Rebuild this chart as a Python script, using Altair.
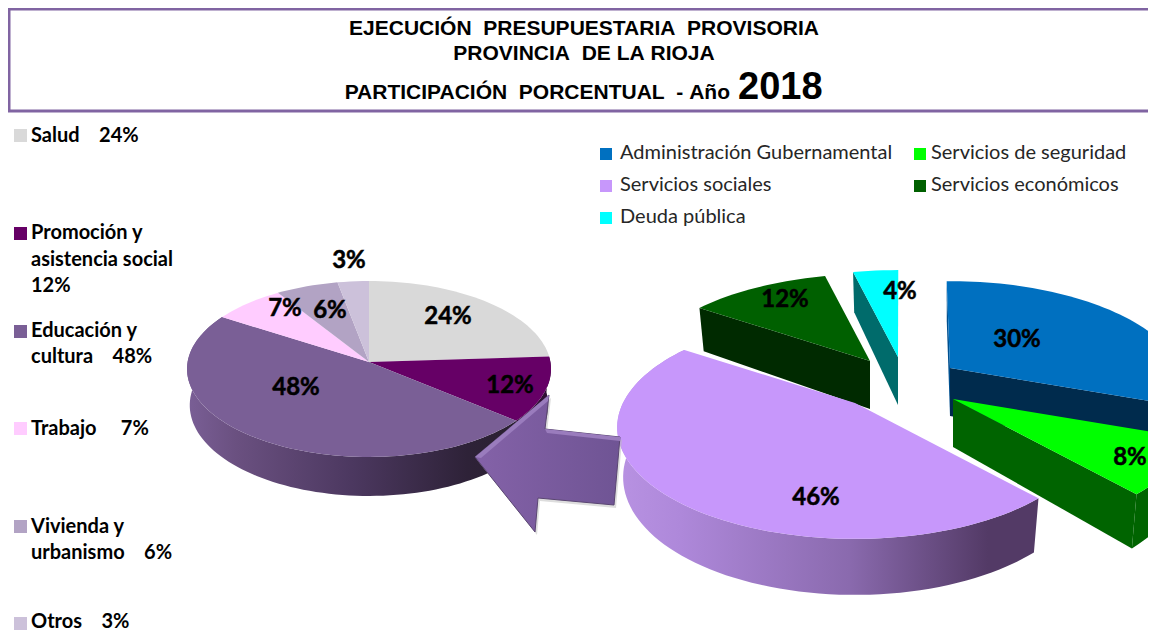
import math
import altair as alt
import pandas as pd

# ---- data ----
left_names = ["Salud", "Promoción y asistencia social", "Educación y cultura", "Trabajo", "Vivienda y urbanismo", "Otros"]
left_share = [24, 12, 48, 7, 6, 3]
left_colors = ["#D9D9D9", "#660066", "#7A5F96", "#FFCCFF", "#B2A3C4", "#CCC1DA"]

right_names = ["Administración Gubernamental", "Servicios de seguridad", "Servicios sociales", "Servicios económicos", "Deuda pública"]
right_labels = ["30%", "8%", "46%", "12%", "4%"]
right_share = [30.8, 8.0, 46.0, 11.7, 3.8]
right_colors = ["#0070C0", "#00FF00", "#C797FB", "#006000", "#00FFFF"]

title_lines = ["EJECUCIÓN\u00a0\u00a0PRESUPUESTARIA\u00a0\u00a0PROVISORIA", "PROVINCIA\u00a0\u00a0DE\u00a0LA\u00a0RIOJA"]
title_line3 = "PARTICIPACIÓN\u00a0\u00a0PORCENTUAL\u00a0\u00a0-\u00a0Año"
title_year = "2018"

left_legend = [
    ("#D9D9D9", 129, [("Salud\u00a0\u00a0\u00a0\u00a024%", 142)]),
    ("#660066", 227, [("Promoción y", 239), ("asistencia social", 266), ("12%", 292)]),
    ("#7A5F96", 325, [("Educación y", 337), ("cultura\u00a0\u00a0\u00a0\u00a048%", 363)]),
    ("#FFCCFF", 422, [("Trabajo\u00a0\u00a0\u00a0\u00a0\u00a07%", 435)]),
    ("#B2A3C4", 520, [("Vivienda y", 533), ("urbanismo\u00a0\u00a0\u00a0\u00a06%", 559)]),
    ("#CCC1DA", 617, [("Otros\u00a0\u00a0\u00a0\u00a03%", 628)]),
]
right_legend_pos = [(600, 148), (914, 148), (600, 180), (914, 180), (600, 212)]

left_label_pos = [("24%", 448, 317), ("12%", 510, 386), ("48%", 296, 388), ("7%", 285, 309), ("6%", 330, 311), ("3%", 349, 261)]
right_label_pos = [(1017, 340), (1130, 458), (816, 498), (785, 300), (900, 292)]

arrow_x = [475, 549, 545, 620, 614, 538, 535]
arrow_y = [457, 395, 429, 437, 505, 498, 532]
bevel_top_x = [545, 620, 620, 547]
bevel_top_y = [429, 437, 441, 433]
bevel_head_x = [475, 549, 548, 481]
bevel_head_y = [457, 395, 401, 458]

# ---- scales: one shared pair of axes ----
xs = alt.Scale(domain=[8, 1148], range=[0, 1140], nice=False, zero=False)
ys = alt.Scale(domain=[8, 632], range=[0, 624], nice=False, zero=False)
X = alt.X("px:Q", scale=xs, axis=None)
Y = alt.Y("py:Q", scale=ys, axis=None)


def point(p, theta, low=False):
    t = math.radians(theta)
    u, v = math.sin(t), math.cos(t)
    w = 1 + p["k"] * v
    x = p["R"] * u / w
    y = -p["S"] * v / w
    if low:
        x *= p["shrink"]
        y += p["d0"] - p["d1"] * v
    return p["cx"] + x, p["cy"] + y


def poly(pts, fill, **kw):
    df = pd.DataFrame({"px": [a for a, _ in pts], "py": [b for _, b in pts], "i": range(len(pts))})
    kw.setdefault("strokeWidth", 0)
    return alt.Chart(df).mark_line(interpolate="linear-closed", fill=fill, clip=True, **kw).encode(
        x=X, y=Y, order=alt.Order("i:Q"))


def arc(p, a, b, low=False):
    n = max(2, int(abs(b - a) / 2) + 1)
    return [point(p, a + (b - a) * j / (n - 1), low) for j in range(n)]


def top(p, a, b, color):
    return poly([(p["cx"], p["cy"])] + arc(p, a, b), color)


def wall(p, a, b, fill):
    return poly(arc(p, a, b) + arc(p, b, a, True), fill)


def face(p, a, fill):
    ap = (p["cx"], p["cy"])
    apl = (p["cx"], p["cy"] + p["d0"])
    return poly([ap, point(p, a), point(p, a, True), apl], fill)


def grad(stops):
    return alt.Gradient(gradient="linear", x1=0, x2=1, y1=0, y2=0,
                        stops=[alt.GradientStop(offset=o, color=c) for o, c in stops])


layers = []

# title box
box = pd.DataFrame({"px": [9], "px2": [1170], "py": [9], "py2": [111]})
layers.append(alt.Chart(box).mark_rect(fill="white", stroke="#8064A2", strokeWidth=3, clip=True).encode(
    x=X, x2="px2:Q", y=Y, y2="py2:Q"))


def text_layer(rows, size, font, weight="bold", align="center", baseline="alphabetic", color="black", **kw):
    df = pd.DataFrame(rows, columns=["t", "px", "py"])
    return alt.Chart(df).mark_text(fontSize=size, font=font, fontWeight=weight, align=align,
                                   baseline=baseline, color=color, **kw).encode(x=X, y=Y, text="t:N")


layers.append(text_layer([(title_lines[0], 584, 35), (title_lines[1], 584, 60)], 21, "Liberation Sans"))
layers.append(text_layer([(title_line3, 730, 99)], 21, "Liberation Sans", align="right"))
layers.append(text_layer([(title_year, 738, 99)], 38, "Liberation Sans", align="left"))

# left pie
lp = dict(cx=369, cy=362, R=181.4, S=87.4, k=0.0795, shrink=0.985, d0=36, d1=3)
cum = 0
lb = []
for s, c in zip(left_share, left_colors):
    lb.append((cum * 3.6, (cum + s) * 3.6, c))
    cum += s
layers.append(wall(lp, lb[1][0], lb[1][1], "#2E0F33"))
layers.append(wall(lp, lb[2][0], lb[2][1], grad([(0, "#7A5F96"), (0.15, "#6A5080"), (0.5, "#4C3860"), (0.85, "#2E2238"), (1, "#2A2030")])))
for a, b, c in lb:
    layers.append(top(lp, a, b, c))

# right pie: every slice has its own exploded apex
right_apex = [(950, 368), (953, 399), (855, 403), (870, 361), (898, 357)]
r = []
cum = -1.0
for s, (ax, ay) in zip(right_share, right_apex):
    a = cum
    b = cum + s * 3.6
    r.append((a, b, dict(cx=ax, cy=ay, R=232, S=106, k=0.22, shrink=0.975, d0=48, d1=8)))
    cum = b

# cyan
a, b, p = r[4]
layers.append(face(p, a, "#006B6B"))
layers.append(top(p, a, b, right_colors[4]))
# dark green
a, b, p = r[3]
layers.append(face(p, a, "#002A00"))
layers.append(top(p, a, b, right_colors[3]))
# blue
a, b, p = r[0]
layers.append(face(p, a, "#00508F"))
layers.append(face(p, b, "#002B4D"))
layers.append(top(p, a, b, right_colors[0]))
# green
a, b, p = r[1]
layers.append(wall(p, a, b, "#006400"))
layers.append(face(p, b, "#006400"))
layers.append(top(p, a, b, right_colors[1]))
# purple
a, b, p = r[2]
layers.append(wall(p, a, b, grad([(0, "#B892E2"), (0.15, "#AE88DA"), (0.55, "#8A6AAE"), (0.88, "#533A66"), (1, "#533A66")])))
layers.append(top(p, a, b, right_colors[2]))

# arrow
layers.append(poly([(x + 2, y + 3) for x, y in zip(arrow_x, arrow_y)], "#BBBBBB", opacity=0.5))
layers.append(poly(list(zip(arrow_x, arrow_y)), grad([(0, "#8462A8"), (1, "#6F5494")]), stroke="#5A4672", strokeWidth=1))
layers.append(poly(list(zip(bevel_top_x, bevel_top_y)), "#9A7CBD"))
layers.append(poly(list(zip(bevel_head_x, bevel_head_y)), "#9A7CBD"))

# slice labels
layers.append(text_layer(left_label_pos, 24, "Lato", baseline="middle", stroke="black", strokeWidth=0.5))
layers.append(text_layer([(t, x, y) for t, (x, y) in zip(right_labels, right_label_pos)], 24, "Lato", baseline="middle", stroke="black", strokeWidth=0.5))

# legends
sq = []
txt = []
for c, y, lines in left_legend:
    sq.append((14, 27, y, y + 13, c))
    for t, by in lines:
        txt.append((t, 31, by))
for (x, y), c in zip(right_legend_pos, right_colors):
    sq.append((x, x + 12, y, y + 12, c))
sqdf = pd.DataFrame(sq, columns=["px", "px2", "py", "py2", "c"])
layers.append(alt.Chart(sqdf).mark_rect().encode(
    x=X, x2="px2:Q", y=Y, y2="py2:Q", color=alt.Color("c:N", scale=None)))
layers.append(text_layer(txt, 20, "Lato", align="left"))
rtxt = [(n, x + 20 if x < 700 else x + 17, y + 11) for n, (x, y) in zip(right_names, right_legend_pos)]
layers.append(text_layer(rtxt, 20, "Lato", weight="normal", align="left", color="#262626"))

chart = alt.layer(*layers).properties(
    width=1140, height=624, padding=0, autosize=alt.AutoSizeParams(type="none"),
).configure_view(strokeWidth=0)
chart.save("out.html", embed_options={"renderer": "svg", "actions": False})
